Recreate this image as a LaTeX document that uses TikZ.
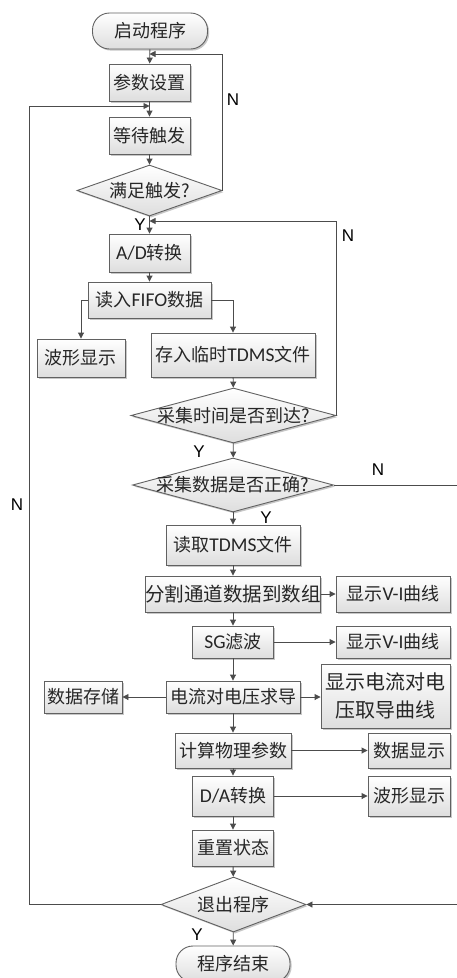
\documentclass[tikz,border=0pt]{standalone}
\usepackage{fontspec}
\setmainfont{Noto Sans CJK SC}
\newfontfamily\latf{Carlito}
\newfontfamily\labf{Liberation Sans}
\usetikzlibrary{shapes.geometric,shadows,arrows.meta}
\newcommand{\lt}[1]{{\latf\fontsize{19.5}{22}\selectfont #1}}
\begin{document}
\begin{tikzpicture}[x=1pt,y=-1pt,
  base/.style={draw=black!62, line width=0.9pt, top color=white, bottom color=black!13,
    drop shadow={shadow xshift=1.6pt,shadow yshift=-1.6pt,fill=black!40,opacity=0.55},
    inner sep=0pt, text=black!85, align=center},
  box/.style={base, rectangle, font=\fontsize{18}{22}\selectfont},
  term/.style={box, rounded corners=17pt},
  dec/.style={base, diamond},
  dtext/.style={font=\fontsize{18}{22}\selectfont, text=black!85, inner sep=0pt},
  arr/.style={draw=black!70, line width=0.9pt, -{Triangle[length=6pt,width=6pt]}},
  ln/.style={draw=black!70, line width=0.9pt},
  yn/.style={font=\labf\fontsize{17}{20}\selectfont, text=black, fill=white, inner sep=0.6pt}
]
\fill[white] (0,0) rectangle (456,978);
\useasboundingbox (0,0) rectangle (456,978);

% upper column
\node[term, minimum width=115pt, minimum height=36pt] (start) at (150,31) {启动程序};
\node[box, minimum width=81pt, minimum height=37pt] (p1) at (149.5,82.5) {参数设置};
\node[box, minimum width=81pt, minimum height=37pt] (p2) at (149.5,135.5) {等待触发};
\node[dec, minimum width=145pt, minimum height=51pt] (d1) at (149.5,190.5) {};
\node[dtext] (d1t) at (d1.center) {满足触发?};
\node[box, minimum width=81pt, minimum height=38pt] (ad) at (149.5,253) {\lt{A/D}转换};
\node[box, minimum width=123pt, minimum height=36pt] (fifo) at (149.5,300) {读入\lt{FIFO}数据};
\node[box, minimum width=88pt, minimum height=38pt] (wave1) at (81,358) {波形显示};
\node[box, minimum width=164pt, minimum height=44pt] (store) at (233,355) {存入临时\lt{TDMS}文件};
\node[dec, minimum width=205pt, minimum height=55pt] (d2) at (233.5,415.5) {};
\node[dtext] (d2t) at (d2.center) {采集时间是否到达?};
\node[dec, minimum width=201pt, minimum height=54pt] (d3) at (233,485) {};
\node[dtext] (d3t) at (d3.center) {采集数据是否正确?};

% lower column
\node[box, minimum width=134pt, minimum height=40pt] (read) at (233,545) {读取\lt{TDMS}文件};
\node[box, minimum width=175pt, minimum height=36pt, font=\fontsize{19.5}{24}\selectfont] (split) at (233,594) {分割通道数据到数组};
\node[box, minimum width=114pt, minimum height=36pt] (vi1) at (393,594) {显示\lt{V-I}曲线};
\node[box, minimum width=81pt, minimum height=32pt] (sg) at (233,642) {\lt{SG}滤波};
\node[box, minimum width=114pt, minimum height=32pt] (vi2) at (393,642) {显示\lt{V-I}曲线};
\node[box, minimum width=134pt, minimum height=32pt] (deriv) at (233,697) {电流对电压求导};
\node[box, minimum width=78pt, minimum height=32pt] (save) at (83,697) {数据存储};
\node[box, minimum width=129pt, minimum height=64pt, font=\fontsize{20}{28}\selectfont] (showd) at (385.5,696) {显示电流对电\\压取导曲线};
\node[box, minimum width=116pt, minimum height=35pt] (calc) at (233,750.5) {计算物理参数};
\node[box, minimum width=82pt, minimum height=35pt] (dshow) at (409,750.5) {数据显示};
\node[box, minimum width=81pt, minimum height=40pt] (da) at (233,796) {\lt{D/A}转换};
\node[box, minimum width=82pt, minimum height=40pt] (wave2) at (409,796) {波形显示};
\node[box, minimum width=81pt, minimum height=36pt] (reset) at (233,848) {重置状态};
\node[dec, minimum width=145pt, minimum height=55pt] (quit) at (233.5,904.5) {};
\node[dtext] (quitt) at (quit.center) {退出程序};
\node[term, minimum width=114pt, minimum height=36pt] (end) at (233,964) {程序结束};

% junction points
\coordinate (j1) at (149.5,54);
\coordinate (j2) at (149.5,106);
\coordinate (j3) at (149.5,221);
\coordinate (lx) at (29,0);
\coordinate (rx) at (470,0);

% connectors
\draw[arr] (start) -- (p1);
\draw[arr] (d1.east) |- (j1);
\draw[arr] (p1) -- (p2);
\draw[arr] (quit.west) -- (quit.west -| lx) |- (j2);
\draw[arr] (p2) -- (d1);
\draw[arr] (d1) -- (ad);
\draw[arr] (d2.east) |- (j3);
\draw[arr] (ad) -- (fifo);
\draw[arr] (fifo.west) -| (wave1.north);
\draw[arr] (fifo.east) -| (store.north);
\draw[arr] (store) -- (d2);
\draw[arr] (d2) -- (d3);
\draw[arr] (d3.east) -- (d3.east -| rx) |- (quit.east);
\draw[arr] (d3) -- (read);
\draw[arr] (read) -- (split);
\draw[arr] (split) -- (vi1);
\draw[arr] (split) -- (sg);
\draw[arr] (sg) -- (vi2);
\draw[arr] (sg) -- (deriv);
\draw[arr] (deriv) -- (save);
\draw[arr] (deriv.east) -- (deriv.east -| showd.west);
\draw[arr] (deriv) -- (calc);
\draw[arr] (calc) -- (dshow);
\draw[arr] (calc) -- (da);
\draw[arr] (da) -- (wave2);
\draw[arr] (da) -- (reset);
\draw[arr] (reset) -- (quit);
\draw[arr] (quit) -- (end);

% Y / N labels
\node[yn] (n1) at (233,100) {N};
\node[yn] (n2) at (348,236) {N};
\node[yn] (n3) at (378,470) {N};
\node[yn] (n4) at (17,505) {N};
\node[yn] (y1) at (140,225) {Y};
\node[yn] (y2) at (199,452) {Y};
\node[yn] (y3) at (266,518) {Y};
\node[yn] (y4) at (197,935) {Y};
\end{tikzpicture}
\end{document}
